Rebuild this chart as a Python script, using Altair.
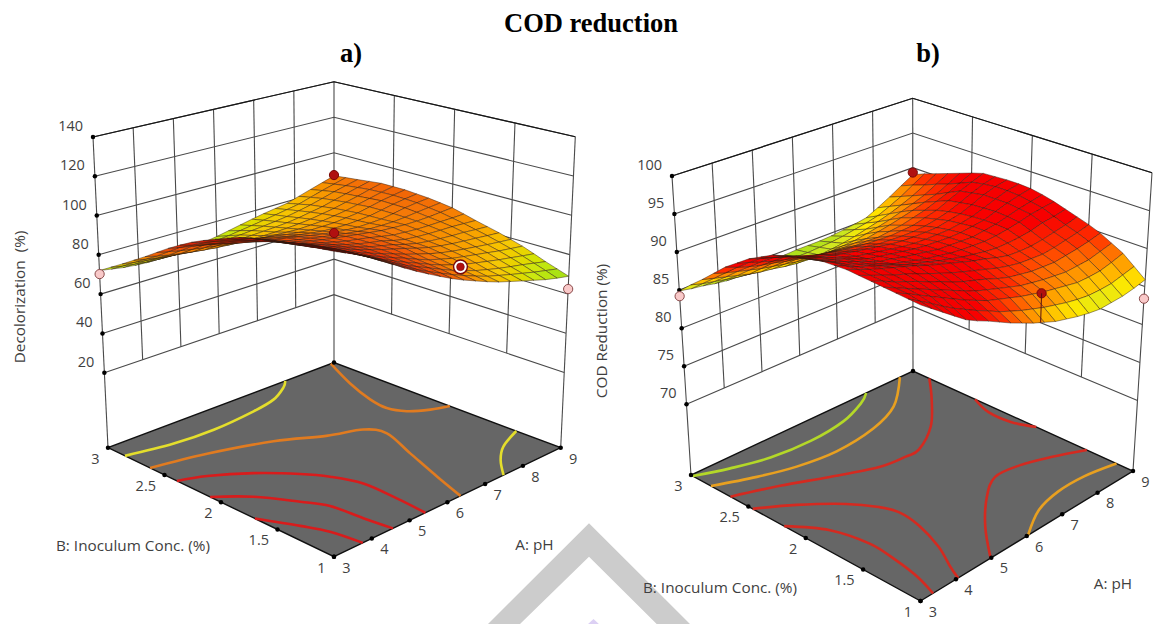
import altair as alt

# ---- axis tick values ----
ph_ticks = [3, 4, 5, 6, 7, 8, 9]
b_ticks = [1, 1.5, 2, 2.5, 3]
b_labels = ["1", "1.5", "2", "2.5", "3"]
za_ticks = [20, 40, 60, 80, 100, 120, 140]
zb_ticks = [70, 75, 80, 85, 90, 95, 100]

# ---- response surfaces: rows B = 1..3, columns pH = 3..9 ----
ph_grid = [3, 3.3, 3.6, 3.9, 4.2, 4.5, 4.8, 5.1, 5.4, 5.7, 6, 6.3, 6.6, 6.9, 7.2, 7.5, 7.8, 8.1, 8.4, 8.7, 9]
b_grid = [1, 1.1, 1.2, 1.3, 1.4, 1.5, 1.6, 1.7, 1.8, 1.9, 2, 2.1, 2.2, 2.3, 2.4, 2.5, 2.6, 2.7, 2.8, 2.9, 3]
surface_a = [
    [124, 121.3, 118.5, 115.2, 111.5, 107.8, 104, 100.4, 97, 93.7, 90.5, 87.6, 85, 82.4, 80, 78, 76, 74, 72, 70.4, 69],
    [123.2, 120.7, 118, 114.8, 111.3, 107.7, 104.1, 100.6, 97.3, 94.2, 91.3, 88.4, 85.8, 83.3, 81, 79.2, 77.4, 75.7, 74, 72.5, 71],
    [122.3, 120, 117.5, 114.4, 111, 107.6, 104.2, 100.8, 97.5, 94.7, 92, 89.2, 86.5, 84.2, 82, 80.3, 78.7, 77.3, 76, 74.5, 73],
    [121.4, 119, 116.5, 113.3, 110, 106.8, 103.6, 100.6, 97.7, 95, 92.5, 89.8, 87.3, 85.2, 83.3, 81.8, 80.4, 79, 77.8, 76.5, 75.3],
    [120.4, 118, 115.5, 112.2, 109, 106, 103, 100.3, 97.8, 95.3, 93, 90.4, 88, 86.2, 84.5, 83.2, 82, 80.8, 79.5, 78.5, 77.5],
    [119.3, 116.6, 114, 110.9, 107.9, 105.1, 102.5, 100, 97.7, 95.4, 93.3, 91, 89, 87.1, 85.4, 84.1, 83, 82, 81, 80.1, 79.3],
    [118, 115.2, 112.5, 109.6, 106.7, 104.2, 102, 99.7, 97.5, 95.5, 93.5, 91.7, 90, 88, 86.3, 85, 84, 83.2, 82.5, 81.7, 81],
    [116.5, 113.9, 111.3, 108.4, 105.6, 103.2, 101, 98.9, 96.8, 94.9, 93, 91.5, 90, 88.1, 86.5, 85.5, 84.8, 84.2, 83.8, 83.1, 82.5],
    [114.7, 112.5, 110, 107.2, 104.5, 102.2, 100, 98, 96, 94.2, 92.5, 91.2, 90, 88.2, 86.7, 86, 85.5, 85.2, 85, 84.5, 84],
    [112.3, 110, 107.7, 105.4, 103.2, 100.9, 98.5, 96.7, 95, 93.5, 92, 90.9, 89.8, 88.4, 87.1, 86.5, 86, 85.8, 85.8, 85.7, 85.7],
    [109.7, 107.6, 105.5, 103.6, 102, 99.5, 97, 95.4, 94, 92.7, 91.5, 90.5, 89.5, 88.5, 87.5, 87, 86.5, 86.4, 86.5, 86.9, 87.3],
    [107, 104.9, 102.8, 101, 99.2, 97.4, 95.5, 94, 92.7, 91.5, 90.3, 89.2, 88.1, 87.2, 86.5, 86.3, 86.2, 86.6, 87.2, 87.7, 88.2],
    [104, 102, 100, 98.2, 96.5, 95.2, 94, 92.7, 91.5, 90.2, 89, 87.8, 86.7, 86, 85.5, 85.6, 85.8, 86.7, 87.8, 88.5, 89],
    [100.5, 98.8, 97.2, 95.7, 94.3, 93.1, 92, 90.7, 89.5, 88.4, 87.3, 86.3, 85.4, 85, 84.8, 85.1, 85.6, 86.7, 87.9, 88.8, 89.5],
    [96.7, 95.5, 94.3, 93.1, 92, 91, 90, 88.7, 87.5, 86.5, 85.5, 84.7, 84, 84, 84, 84.6, 85.3, 86.6, 88, 89, 90],
    [92.5, 91.2, 89.9, 88.8, 87.8, 86.9, 86, 85.1, 84.3, 83.7, 83.2, 82.8, 82.5, 82.7, 83, 83.8, 84.7, 86, 87.4, 88.8, 90],
    [88.2, 86.8, 85.5, 84.5, 83.5, 82.7, 82, 81.5, 81, 80.8, 80.8, 80.8, 81, 81.4, 82, 83, 84, 85.4, 86.8, 88.5, 90],
    [84.1, 83, 81.9, 81, 80.3, 79.7, 79.2, 78.9, 78.7, 78.7, 78.9, 79.2, 79.5, 80, 80.8, 81.9, 83, 84.6, 86.2, 87.8, 89.3],
    [80, 79.1, 78.3, 77.6, 77, 76.6, 76.3, 76.2, 76.3, 76.6, 77, 77.5, 78, 78.7, 79.5, 80.7, 82, 83.7, 85.5, 87, 88.5],
    [76, 75, 74.2, 73.5, 73, 72.8, 72.7, 72.8, 73.2, 73.8, 74.5, 75.4, 76.3, 77.3, 78.3, 79.4, 80.5, 82.4, 84.3, 86, 87.8],
    [72, 71, 70, 69.4, 69, 69, 69, 69.4, 70, 71, 72, 73.2, 74.5, 75.8, 77, 78, 79, 81, 83, 85, 87],
]
surface_b = [
    [96.4, 95.3, 94.2, 93.1, 92, 91.2, 90.5, 89.7, 88.9, 88.2, 87.5, 86.9, 86.3, 85.9, 85.5, 85.2, 85, 85.1, 85.2, 85.5, 85.9],
    [96.5, 95.6, 94.7, 93.7, 92.8, 92, 91.2, 90.5, 89.7, 89.1, 88.5, 88, 87.5, 87.1, 86.7, 86.4, 86.2, 86.2, 86.3, 86.7, 87.1],
    [96.6, 95.9, 95.1, 94.3, 93.5, 92.7, 91.9, 91.2, 90.5, 90, 89.5, 89, 88.6, 88.2, 87.9, 87.6, 87.3, 87.3, 87.4, 87.8, 88.3],
    [96.7, 96, 95.3, 94.6, 93.9, 93.2, 92.5, 91.8, 91.1, 90.6, 90.1, 89.6, 89.1, 88.8, 88.5, 88.3, 88.1, 88.2, 88.3, 88.7, 89.1],
    [96.8, 96.2, 95.5, 94.9, 94.3, 93.6, 93, 92.3, 91.7, 91.2, 90.7, 90.1, 89.6, 89.3, 89, 88.9, 88.8, 89, 89.2, 89.5, 89.9],
    [96.9, 96.3, 95.7, 95.1, 94.6, 94, 93.4, 92.8, 92.2, 91.7, 91.2, 90.7, 90.2, 89.8, 89.5, 89.4, 89.3, 89.5, 89.8, 90.1, 90.5],
    [97, 96.4, 95.8, 95.3, 94.8, 94.3, 93.8, 93.2, 92.7, 92.2, 91.7, 91.2, 90.8, 90.3, 89.9, 89.8, 89.8, 90, 90.3, 90.6, 91],
    [96.9, 96.2, 95.5, 95, 94.4, 93.9, 93.3, 92.8, 92.4, 91.9, 91.5, 91.1, 90.8, 90.5, 90.3, 90.3, 90.4, 90.6, 91, 91.2, 91.5],
    [96.8, 96, 95.2, 94.6, 94, 93.4, 92.8, 92.4, 92, 91.6, 91.3, 91, 90.8, 90.7, 90.6, 90.7, 90.9, 91.2, 91.6, 91.8, 92],
    [96.4, 95.6, 94.9, 94.3, 93.7, 93.1, 92.5, 92.2, 91.8, 91.5, 91.2, 90.9, 90.8, 90.7, 90.6, 90.8, 91, 91.4, 91.8, 92.1, 92.4],
    [96, 95.2, 94.5, 93.9, 93.4, 92.8, 92.2, 91.9, 91.6, 91.3, 91, 90.8, 90.7, 90.6, 90.6, 90.8, 91, 91.5, 92, 92.4, 92.7],
    [95.5, 94.8, 94.1, 93.5, 92.9, 92.4, 91.9, 91.6, 91.3, 91, 90.7, 90.5, 90.4, 90.4, 90.4, 90.6, 90.9, 91.4, 92, 92.5, 92.8],
    [95, 94.3, 93.7, 93, 92.4, 92, 91.6, 91.3, 91, 90.7, 90.4, 90.2, 90.1, 90.1, 90.1, 90.4, 90.7, 91.3, 92, 92.5, 92.8],
    [94.1, 93.5, 93, 92.4, 91.8, 91.4, 90.9, 90.6, 90.3, 90.1, 89.8, 89.7, 89.6, 89.6, 89.7, 90, 90.4, 91, 91.7, 92.3, 92.7],
    [93.2, 92.7, 92.2, 91.7, 91.2, 90.7, 90.2, 89.9, 89.6, 89.4, 89.2, 89.1, 89, 89.1, 89.2, 89.6, 90, 90.7, 91.4, 92, 92.6],
    [92, 91.5, 91, 90.5, 90.1, 89.7, 89.3, 89, 88.7, 88.5, 88.3, 88.3, 88.2, 88.4, 88.6, 89, 89.4, 90, 90.6, 91.3, 92.1],
    [90.8, 90.2, 89.7, 89.3, 89, 88.6, 88.3, 88, 87.7, 87.5, 87.4, 87.4, 87.4, 87.7, 88, 88.4, 88.8, 89.3, 89.8, 90.6, 91.5],
    [89.3, 88.8, 88.4, 88, 87.6, 87.3, 87, 86.7, 86.5, 86.3, 86.3, 86.4, 86.5, 86.8, 87.1, 87.5, 88, 88.5, 89.1, 90, 90.9],
    [87.8, 87.4, 87, 86.6, 86.2, 85.9, 85.7, 85.4, 85.2, 85.1, 85.1, 85.3, 85.5, 85.8, 86.2, 86.6, 87.1, 87.7, 88.4, 89.3, 90.3],
    [86.4, 86, 85.7, 85.4, 85.1, 84.9, 84.9, 84.8, 84.8, 84.8, 84.8, 84.9, 85, 85.2, 85.5, 85.8, 86.2, 86.9, 87.7, 88.7, 89.7],
    [84.9, 84.6, 84.4, 84.1, 83.9, 83.9, 84, 84.1, 84.3, 84.4, 84.5, 84.5, 84.5, 84.6, 84.8, 85, 85.3, 86.1, 87, 88, 89],
]

# ---- floor contours, as (fraction of pH range, fraction of B range) ----
contours_a = [
    ("#e4de2c", [(0, .925), (.182, .891), (.35, .882), (.542, .898), (.652, .92), (.742, .966), (.784, 1)]),
    ("#e07b20", [(0, .814), (.209, .771), (.428, .696), (.575, .61), (.69, .561), (.721, .488), (.666, .33), (.605, .151), (.558, 0)]),
    ("#d81c1c", [(0, .695), (.097, .658), (.219, .575), (.321, .471), (.374, .392), (.413, .284), (.412, .135), (.403, 0)]),
    ("#d81c1c", [(0, .548), (.102, .458), (.184, .334), (.23, .248), (.244, .115), (.26, 0)]),
    ("#d81c1c", [(0, .35), (.068, .218), (.107, .125), (.127, 0)]),
    ("#e07b20", [(.986, 1), (.914, .843), (.868, .709), (.856, .624), (.882, .561), (.94, .515), (1, .489)]),
    ("#e4de2c", [(1, .196), (.893, .146), (.818, .083), (.748, 0)]),
]
contours_b = [
    ("#b4d828", [(0, .992), (.124, .949), (.268, .912), (.44, .9), (.605, .918), (.729, .963), (.789, 1)]),
    ("#e8a020", [(0, .913), (.15, .857), (.289, .817), (.45, .797), (.638, .818), (.787, .874), (.941, 1)]),
    ("#d42a20", [(0, .828), (.165, .77), (.32, .701), (.477, .634), (.583, .619), (.645, .62), (.777, .697), (.905, .82), (1, .926)]),
    ("#d42a20", [(0, .731), (.12, .655), (.239, .551), (.3, .465), (.323, .399), (.311, .3), (.265, .169), (.207, .063), (.177, 0)]),
    ("#d42a20", [(0, .594), (.089, .479), (.123, .337), (.113, .213), (.092, .098), (.059, 0)]),
    ("#d42a20", [(.33, 0), (.451, .138), (.582, .256), (.688, .321), (.791, .311), (.898, .267), (1, .21)]),
    ("#e8a020", [(.506, 0), (.636, .075), (.756, .104), (.877, .103), (1, .075)]),
    ("#d42a20", [(1, .718), (.968, .625), (.97, .526), (1, .44)]),
]

# ---- design points (pH, B, response, kind) ----
points_a = [(3, 3, 70.2, "low"), (9, 1, 62.5, "low"), (9, 3, 87.4, "high"), (6, 2, 94.2, "high")]
ring_a = [(6.2, 1, 94.8)]
points_b = [(3, 3, 84.2, "low"), (9, 1, 83.4, "low"), (9, 3, 89.3, "high"), (6.2, 1, 90.8, "high")]
stem_b = [(6.2, 1, 90.8), (6.2, 1, 87.1)]

# ---- camera of each panel: where the corners of the box land on the page ----
box_a = dict(zlo=-18.2, zhi=140,
             c00=((334, 556.7), (334, 217)), c10=((560.7, 447.7), (575.3, 136.7)),
             c01=((108, 447.7), (93, 137)), c11=((334, 362.5), (334, 81.7)))
box_b = dict(zlo=60.7, zhi=100,
             c00=((920.5, 601), (920.5, 275)), c10=((1133, 471), (1152, 172.7)),
             c01=((691, 475), (672, 176)), c11=((913, 371), (912.7, 98.3)))


def project(box, ph, b, z):
    u, v = (ph - 3) / 6, (b - 1) / 2
    t = (z - box["zlo"]) / (box["zhi"] - box["zlo"])
    w = [((1 - u) * (1 - v), "c00"), (u * (1 - v), "c10"), ((1 - u) * v, "c01"), (u * v, "c11")]
    x = sum(k * ((1 - t) * box[c][0][0] + t * box[c][1][0]) for k, c in w)
    y = sum(k * ((1 - t) * box[c][0][1] + t * box[c][1][1]) for k, c in w)
    return round(x, 2), round(y, 2)


proj = dict(type="identity", scale=1, translate=[-8, -8])


def line_rows(polys):
    rows = []
    for n, (col, pts) in enumerate(polys):
        rows += [dict(id=n, i=i, lon=p[0], lat=p[1], c=col) for i, p in enumerate(pts)]
    return rows


def lines(polys, **mark):
    return alt.Chart(alt.Data(values=line_rows(polys))).mark_line(**mark).encode(
        longitude="lon:Q", latitude="lat:Q", detail="id:N", order="i:Q",
        color=alt.Color("c:N", scale=None)).project(**proj)


def polygons(feats, **mark):
    return alt.Chart(alt.Data(values=feats)).mark_geoshape(**mark).project(**proj)


def feature(pts, z=0):
    ring = [list(p) for p in pts] + [list(pts[0])]
    return dict(type="Feature", properties=dict(z=z), geometry=dict(type="Polygon", coordinates=[ring]))


def labels(rows, font="Open Sans", size=14.5, color="#3f3f3f", **mark):
    return alt.Chart(alt.Data(values=rows)).mark_text(
        font=font, fontSize=size, color=color, baseline="middle", **mark
    ).encode(longitude="lon:Q", latitude="lat:Q", text="t:N").project(**proj)


def dots(rows, **mark):
    return alt.Chart(alt.Data(values=rows)).mark_point(filled=True, opacity=1, **mark).encode(
        longitude="lon:Q", latitude="lat:Q").project(**proj)


def geo(p, **kw):
    return dict(lon=p[0], lat=p[1], **kw)


def panel(box, z_ticks, surface, contours, domain, colors, points):
    layers = []
    zlo, zmin, zmax = box["zlo"], z_ticks[0], z_ticks[-1]
    wall, edge = "#4a4a4a", "#151515"
    grid = []
    for z in z_ticks:
        grid.append((wall, [project(box, 3, 3, z), project(box, 9, 3, z), project(box, 9, 1, z)]))
    for ph in ph_ticks[1:-1]:
        grid.append((wall, [project(box, ph, 3, zmin), project(box, ph, 3, zmax)]))
    for b in b_ticks[1:-1]:
        grid.append((wall, [project(box, 9, b, zmin), project(box, 9, b, zmax)]))
    for ph, b in [(3, 3), (9, 3), (9, 1)]:
        grid.append((wall, [project(box, ph, b, zlo), project(box, ph, b, zmax)]))
    grid.append((edge, [project(box, 3, 3, zmax), project(box, 9, 3, zmax), project(box, 9, 1, zmax)]))
    layers.append(lines(grid, strokeWidth=1.1))

    floor = [project(box, 3, 1, zlo), project(box, 9, 1, zlo), project(box, 9, 3, zlo), project(box, 3, 3, zlo)]
    layers.append(polygons([feature(floor)], fill="#666666", stroke="#101010", strokeWidth=1.4))
    paths = [(c, [project(box, 3 + 6 * u, 1 + 2 * v, zlo) for u, v in pts]) for c, pts in contours]
    layers.append(lines(paths, strokeWidth=2.6, interpolate="cardinal"))

    cells = []
    for r in range(len(b_grid) - 1):
        for c in range(len(ph_grid) - 1):
            corners = [(r, c), (r, c + 1), (r + 1, c + 1), (r + 1, c)]
            pts = [project(box, ph_grid[j], b_grid[i], surface[i][j]) for i, j in corners]
            zm = sum(surface[i][j] for i, j in corners) / 4
            cells.append((r + c, feature(pts, round(zm, 2))))
    cells.sort(key=lambda e: -e[0])
    layers.append(alt.Chart(alt.Data(values=[f for _, f in cells])).mark_geoshape(
        stroke="#2c1a10", strokeWidth=0.45).encode(
        color=alt.Color("properties.z:Q", legend=None,
                        scale=alt.Scale(domain=domain, range=colors, clamp=True))).project(**proj))

    ticks = [geo(project(box, 3, 3, z)) for z in z_ticks]
    ticks += [geo(project(box, ph, 1, zlo)) for ph in ph_ticks]
    ticks += [geo(project(box, 3, b, zlo)) for b in b_ticks]
    ticks.append(geo(project(box, 9, 3, zlo)))
    layers.append(dots(ticks, color="#000000", size=20))

    layers.append(labels([geo(project(box, 3, 3, z), t=str(z)) for z in z_ticks], align="right", dx=-10, dy=-10))
    layers.append(labels([geo(project(box, ph, 1, zlo), t=str(ph)) for ph in ph_ticks], align="center", dx=12.5, dy=11.8))
    layers.append(labels([geo(project(box, 3, b, zlo), t=t)
                          for b, t in zip(b_ticks, b_labels)], align="right", dx=-8.5, dy=11.8))

    hi = [geo(project(box, p[0], p[1], p[2])) for p in points if p[3] == "high"]
    lo = [geo(project(box, p[0], p[1], p[2])) for p in points if p[3] == "low"]
    layers.append(dots(hi, color="#b01010", stroke="#7a0808", strokeWidth=1, size=85))
    layers.append(dots(lo, color="#f9c9c9", stroke="#8a4a4a", strokeWidth=1, size=85))
    return layers


# ---- texts ----
titles = [("COD reduction", 591, 23.5), ("a)", 351, 54), ("b)", 928, 54)]
flat_titles = [("B: Inoculum Conc. (%)", 133, 546), ("A: pH", 534.5, 545),
               ("B: Inoculum Conc. (%)", 720, 588), ("A: pH", 1113, 584)]
side_titles = [("Decolorization\u00a0\u00a0(%)", 20, 297), ("COD Reduction (%)", 602, 331)]

# ---- pale watermark behind the chart ----
mark_band = [(589, 523.3), (690, 624), (656.7, 624), (589, 556.7), (520, 624), (488, 624)]
mark_spot = [(587, 625), (593.5, 619), (600, 625)]

layers = [
    polygons([feature(mark_band)], fill="#cccccc", strokeWidth=0),
    polygons([feature(mark_spot)], fill="#dcd0f4", strokeWidth=0),
]
layers += panel(box_a, za_ticks, surface_a, contours_a,
                [69, 74, 79, 87, 91, 98, 108, 124],
                ["#9ade18", "#cce810", "#f6c808", "#f57a08", "#f05808", "#e83008", "#c01008", "#6a0404"], points_a)
layers += panel(box_b, zb_ticks, surface_b, contours_b,
                [84, 85.2, 86, 88, 89.5, 91, 97],
                ["#88d820", "#d4e820", "#ffe800", "#ff8800", "#ff3000", "#f80000", "#ee0000"], points_b)

layers.append(dots([geo(project(box_a, *ring_a[0]))], color="#ffffff", stroke="#7a0808", strokeWidth=1.4, size=190))
layers.append(dots([geo(project(box_a, *ring_a[0]))], color="#b01010", stroke="#7a0808", strokeWidth=0.6, size=60))
layers.append(lines([("#5a1010", [project(box_b, *p) for p in stem_b])], strokeWidth=1))

layers.append(labels([dict(lon=x, lat=y, t=t) for t, x, y in titles],
                     font="Liberation Serif", size=26.5, color="#000000", align="center", fontWeight="bold"))
layers.append(labels([dict(lon=x, lat=y, t=t) for t, x, y in flat_titles], size=15.3, align="center"))
layers.append(labels([dict(lon=x, lat=y, t=t) for t, x, y in side_titles], size=15.3, align="center", angle=270))

chart = alt.layer(*layers).resolve_scale(color="independent").properties(
    width=1145, height=616, padding=0, autosize="none", background="#ffffff"
).configure_view(stroke=None)

chart.save("out.html", embed_options={"renderer": "svg", "actions": False})
